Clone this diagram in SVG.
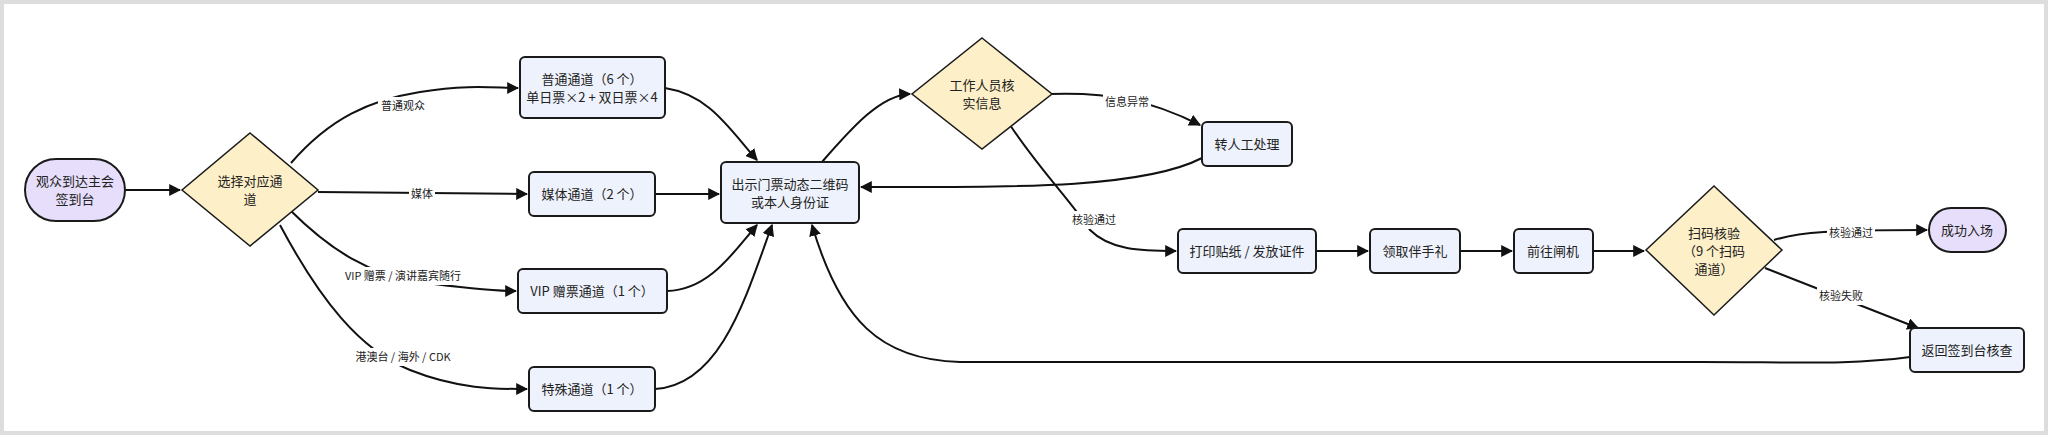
<svg xmlns="http://www.w3.org/2000/svg" width="2048" height="435" viewBox="0 0 2048 435">
<style>
.n{fill:#eef2fc;stroke:#1a1a1a;stroke-width:2}
.d{fill:#fdefc7;stroke:#1a1a1a;stroke-width:1.5}
.s{fill:#e6defa;stroke:#1a1a1a;stroke-width:2}
text{font-family:"Noto Sans CJK SC","Noto Sans",sans-serif;fill:#222;text-anchor:middle}
.t{font-size:13px}
.l{font-size:11px}
.e path{fill:none;stroke:#111;stroke-width:2;marker-end:url(#a)}
.lb{fill:#fff}
</style>
<defs><marker id="a" viewBox="0 0 10 10" refX="9" refY="5" markerWidth="6" markerHeight="6" orient="auto"><path d="M0,0L10,5L0,10z" fill="#111"/></marker></defs>
<rect x="2" y="2" width="2044" height="431" fill="#fff" stroke="#ddd" stroke-width="4"/>
<g class="e">
<path d="M125,190L180,190"/>
<path d="M291,163C330,118 370,100 420,92S495,88 518,88"/>
<path d="M318,192L527,194"/>
<path d="M290,210C330,250 370,275 420,282S495,291 516,291"/>
<path d="M280,225C320,300 360,350 410,370S500,389 527,389"/>
<path d="M665,88C710,95 730,130 757,160"/>
<path d="M655,194L719,194"/>
<path d="M667,291C710,290 735,250 757,225"/>
<path d="M655,389C720,385 745,300 772,225"/>
<path d="M1910,357C1850,365 1800,362 1700,362L960,362C880,360 840,320 812,225"/>
<path d="M822,162C850,130 880,95 910,94"/>
<path d="M1050,94C1110,92 1150,100 1200,125"/>
<path d="M1202,158C1140,190 1000,187 861,187"/>
<path d="M1010,125C1040,170 1070,200 1090,230C1110,250 1140,251 1176,251"/>
<path d="M1316,251L1368,251"/>
<path d="M1460,251L1512,251"/>
<path d="M1593,251L1644,251"/>
<path d="M1774,240C1800,232 1830,230 1927,230"/>
<path d="M1765,268L1918,328"/>
</g>
<g class="lbls">
<rect class="lb" x="378" y="97" width="50" height="18"/><text class="l" x="403" y="110">普通观众</text>
<rect class="lb" x="409" y="185" width="26" height="18"/><text class="l" x="422" y="198">媒体</text>
<rect class="lb" x="346" y="267" width="114" height="18"/><text class="l" x="403" y="280">VIP 赠票 / 演讲嘉宾随行</text>
<rect class="lb" x="358" y="348" width="90" height="18"/><text class="l" x="403" y="361">港澳台 / 海外 / CDK</text>
<rect class="lb" x="1103" y="93" width="48" height="18"/><text class="l" x="1127" y="106">信息异常</text>
<rect class="lb" x="1070" y="211" width="48" height="18"/><text class="l" x="1094" y="224">核验通过</text>
<rect class="lb" x="1827" y="224" width="48" height="18"/><text class="l" x="1851" y="237">核验通过</text>
<rect class="lb" x="1817" y="287" width="48" height="18"/><text class="l" x="1841" y="300">核验失败</text>
</g>
<g id="start"><rect class="s" x="25" y="159" width="100" height="62" rx="31"/><text class="t" x="75" y="186">观众到达主会</text><text class="t" x="75" y="204">签到台</text></g>
<g id="choose"><path class="d" d="M250,133L318,190L250,246L182,190Z"/><text class="t" x="250" y="186">选择对应通</text><text class="t" x="250" y="204">道</text></g>
<g id="normal"><rect class="n" x="520" y="57" width="145" height="61" rx="5"/><text class="t" x="592" y="84">普通通道（6 个）</text><text class="t" x="592" y="102">单日票×2 + 双日票×4</text></g>
<g id="media"><rect class="n" x="529" y="172" width="126" height="44" rx="5"/><text class="t" x="592" y="199">媒体通道（2 个）</text></g>
<g id="vip"><rect class="n" x="518" y="269" width="149" height="44" rx="5"/><text class="t" x="592" y="296">VIP 赠票通道（1 个）</text></g>
<g id="special"><rect class="n" x="529" y="367" width="126" height="44" rx="5"/><text class="t" x="592" y="394">特殊通道（1 个）</text></g>
<g id="show"><rect class="n" x="721" y="162" width="138" height="61" rx="5"/><text class="t" x="790" y="189">出示门票动态二维码</text><text class="t" x="790" y="207">或本人身份证</text></g>
<g id="staff"><path class="d" d="M982,38L1052,94L982,149L912,94Z"/><text class="t" x="982" y="90">工作人员核</text><text class="t" x="982" y="108">实信息</text></g>
<g id="manual"><rect class="n" x="1202" y="122" width="90" height="44" rx="5"/><text class="t" x="1247" y="149">转人工处理</text></g>
<g id="print"><rect class="n" x="1178" y="229" width="138" height="44" rx="5"/><text class="t" x="1247" y="256">打印贴纸 / 发放证件</text></g>
<g id="gift"><rect class="n" x="1370" y="229" width="90" height="44" rx="5"/><text class="t" x="1415" y="256">领取伴手礼</text></g>
<g id="gate"><rect class="n" x="1514" y="229" width="79" height="44" rx="5"/><text class="t" x="1553" y="256">前往闸机</text></g>
<g id="scan"><path class="d" d="M1714,186L1782,250L1714,315L1646,250Z"/><text class="t" x="1714" y="238">扫码核验</text><text class="t" x="1714" y="256">（9 个扫码</text><text class="t" x="1714" y="274">通道）</text></g>
<g id="ok"><rect class="s" x="1929" y="208" width="77" height="44" rx="22"/><text class="t" x="1967" y="235">成功入场</text></g>
<g id="back"><rect class="n" x="1910" y="328" width="114" height="44" rx="5"/><text class="t" x="1967" y="355">返回签到台核查</text></g>
</svg>
